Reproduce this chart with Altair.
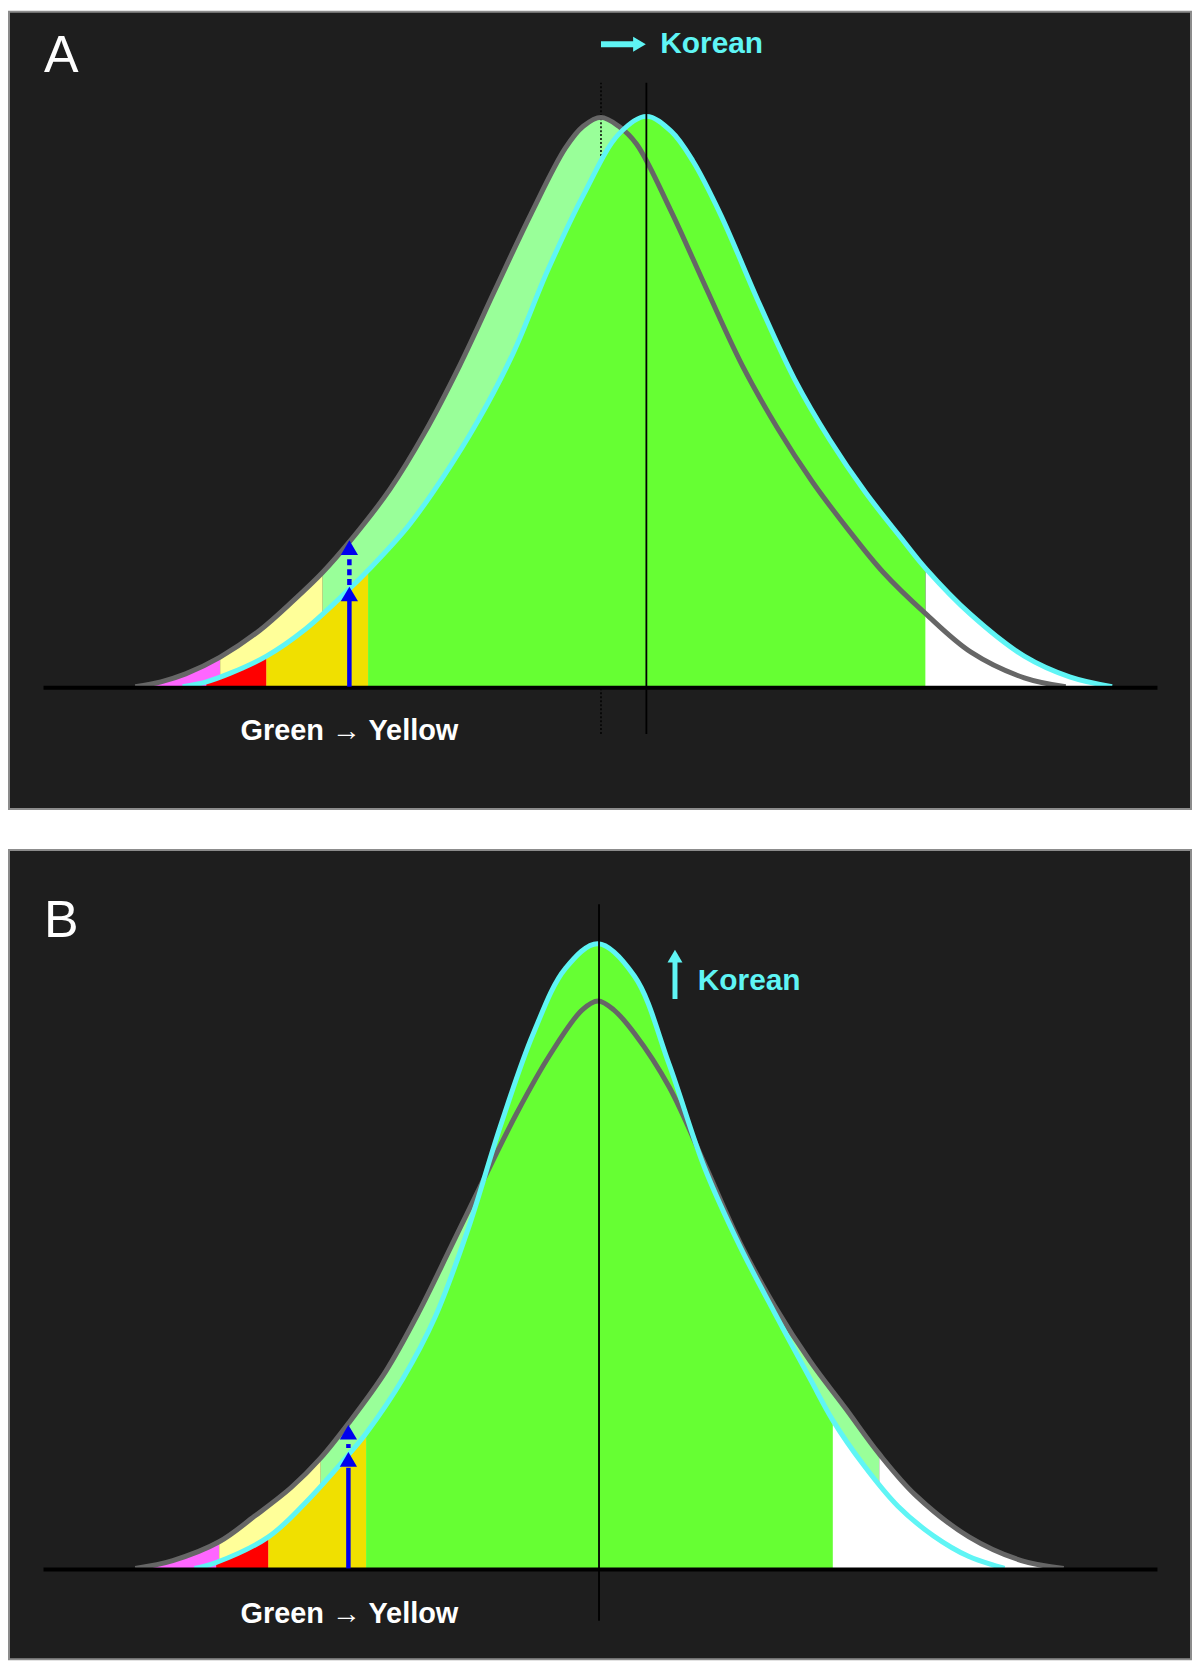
import altair as alt
import pandas as pd

# ---------------- data ----------------
# x: trait score (horizontal position units), h: height of the density above the baseline
# Panel A - reference population (grey) and Korean population (cyan, shifted right)
A_GREY_X = [128, 154, 179, 214, 254, 289, 318, 346, 386, 421, 457, 493, 529, 564, 582,
            600, 618, 636, 671, 707, 743, 779, 814, 850, 886, 929, 975, 1029, 1071]
A_GREY_H = [0, 5, 13, 30, 57, 88, 116, 148, 200, 257, 326, 403, 479, 546, 568,
            577, 568, 550, 482, 403, 326, 262, 208, 160, 116, 74, 35, 9, 0]
A_CYAN_X = [176, 200, 225, 261, 300, 346, 364, 404, 439, 475, 511, 546, 582, 618, 646,
            671, 693, 721, 761, 796, 832, 868, 904, 929, 975, 1029, 1075, 1118]
A_CYAN_H = [0, 5, 14, 31, 58, 100, 118, 162, 211, 269, 338, 422, 498, 560, 578,
            563, 533, 479, 387, 312, 250, 197, 151, 120, 73, 31, 10, 0]
A_GREY_BREAKS = [128, 214, 318, 886, 1071]
A_CYAN_BREAKS = [176, 200, 261, 364, 929, 1118]

# Panel B - reference population (grey) and Korean population (cyan, taller / narrower)
B_GREY_X = [128, 166, 213, 249, 286, 316, 344, 382, 415, 448, 481, 515, 548, 581, 597,
            613, 634, 669, 705, 741, 776, 812, 848, 882, 919, 973, 1026, 1069]
B_GREY_H = [0, 8, 27, 53, 82, 112, 147, 200, 259, 326, 394, 462, 520, 566, 575,
            566, 542, 488, 410, 330, 266, 210, 162, 116, 74, 32, 8, 0]
B_CYAN_X = [188, 210, 263, 299, 344, 362, 399, 432, 465, 498, 531, 564, 597,
            634, 669, 705, 741, 776, 812, 835, 866, 901, 937, 973, 1009]
B_CYAN_H = [0, 6, 32, 65, 115, 137, 192, 255, 343, 448, 541, 608, 633,
            600, 511, 406, 326, 259, 192, 150, 105, 63, 33, 12, 0]
B_GREY_BREAKS = [128, 213, 316, 882, 1069]
B_CYAN_BREAKS = [188, 210, 263, 362, 835, 1009]

GREY_ZONES = ["g_pink", "g_yellow", "g_green", "g_white"]
CYAN_ZONES = ["c_pink", "c_red", "c_yellow", "c_green", "c_white"]
ZONE_COLORS = ["#ff66ff", "#ffff99", "#99ff99", "#ffffff",
               "#ff66ff", "#ff0000", "#f0e000", "#66ff33", "#ffffff"]

# ---------------- styling ----------------
BG = "#1e1e1e"
GREY = "#666666"
CYAN = "#5ff5f5"
BLUE = "#0000ee"
X_DOMAIN = [0, 1198]
W = 1186
FONT = "Liberation Sans, Arial, sans-serif"
NARROW = "Liberation Sans Narrow, Liberation Sans, Arial, sans-serif"
INTERP = "catmull-rom"

TRI_UP = "M0,-0.85L1,0.85L-1,0.85Z"
TRI_RIGHT = "M0.85,0L-0.85,-1L-0.85,1Z"

zone_scale = alt.Scale(domain=GREY_ZONES + CYAN_ZONES, range=ZONE_COLORS)


def xq(field="x"):
    return alt.X(f"{field}:Q", scale=alt.Scale(domain=X_DOMAIN, nice=False, zero=False), axis=None)


def yq(field, ydom):
    return alt.Y(f"{field}:Q", scale=alt.Scale(domain=ydom, nice=False, zero=False),
                 axis=None, stack=None)


def zone_frame(xs, hs, breaks, names):
    rows = []
    for i, name in enumerate(names):
        lo, hi = breaks[i], breaks[i + 1]
        for x, h in zip(xs, hs):
            if lo <= x <= hi:
                rows.append({"x": x, "h": h, "zone": name})
    return pd.DataFrame(rows)


def areas(xs, hs, breaks, names, ydom):
    df = zone_frame(xs, hs, breaks, names)
    return alt.Chart(df).mark_area(interpolate=INTERP).encode(
        x=xq(), y=yq("h", ydom), y2=alt.datum(0),
        color=alt.Color("zone:N", scale=zone_scale, legend=None))


def curve(xs, hs, color, width, ydom):
    df = pd.DataFrame({"x": xs, "h": hs})
    return alt.Chart(df).mark_line(interpolate=INTERP, color=color,
                                   strokeWidth=width).encode(x=xq(), y=yq("h", ydom))


def vrule(x, h1, h2, ydom, color, width, dash=None):
    df = pd.DataFrame({"x": [x], "h1": [h1], "h2": [h2]})
    kw = dict(color=color, strokeWidth=width)
    if dash:
        kw["strokeDash"] = dash
    return alt.Chart(df).mark_rule(**kw).encode(x=xq(), y=yq("h1", ydom), y2="h2:Q")


def hrule(x1, x2, h, ydom, color, width):
    df = pd.DataFrame({"x1": [x1], "x2": [x2], "h": [h]})
    return alt.Chart(df).mark_rule(color=color, strokeWidth=width).encode(
        x=xq("x1"), x2="x2:Q", y=yq("h", ydom))


def head(x, h, shape, size, color, ydom):
    df = pd.DataFrame({"x": [x], "h": [h]})
    return alt.Chart(df).mark_point(shape=shape, size=size, filled=True, color=color,
                                    opacity=1, strokeWidth=0).encode(x=xq(), y=yq("h", ydom))


def label(x, h, text, ydom, **mk):
    df = pd.DataFrame({"x": [x], "h": [h], "t": [text]})
    return alt.Chart(df).mark_text(**mk).encode(x=xq(), y=yq("h", ydom), text="t:N")


# ---------------- panel A ----------------
ya = [-124, 684]
panel_a = alt.layer(
    areas(A_GREY_X, A_GREY_H, A_GREY_BREAKS, GREY_ZONES, ya),
    vrule(600, -48, 612, ya, "#000000", 1.5, [2, 2]),
    areas(A_CYAN_X, A_CYAN_H, A_CYAN_BREAKS, CYAN_ZONES, ya),
    curve(A_GREY_X, A_GREY_H, GREY, 5, ya),
    curve(A_CYAN_X, A_CYAN_H, CYAN, 5, ya),
    vrule(646, -48, 612, ya, "#000000", 1.8),
    hrule(35, 1164, -1, ya, "#000000", 4),
    vrule(345, 0, 88, ya, BLUE, 4.5),
    head(345, 94, TRI_UP, 300, BLUE, ya),
    vrule(345, 103, 132, ya, BLUE, 4.5, [6, 4]),
    head(345, 141, TRI_UP, 300, BLUE, ya),
    hrule(600, 636, 651, ya, CYAN, 6),
    head(639, 651, TRI_RIGHT, 225, CYAN, ya),
    label(660, 651, "Korean", ya, align="left", baseline="middle", font=FONT,
          fontSize=30, fontWeight="bold", color=CYAN),
    label(345, -45, "Green → Yellow", ya, align="center", baseline="middle", font=FONT,
          fontSize=29, fontWeight="bold", color="#ffffff"),
    label(53, 639, "A", ya, align="center", baseline="middle", font=NARROW,
          fontSize=52, color="#ffffff"),
).properties(width=W, height=800)

# ---------------- panel B ----------------
yb = [-92, 728]
panel_b = alt.layer(
    areas(B_GREY_X, B_GREY_H, B_GREY_BREAKS, GREY_ZONES, yb),
    areas(B_CYAN_X, B_CYAN_H, B_CYAN_BREAKS, CYAN_ZONES, yb),
    curve(B_GREY_X, B_GREY_H, GREY, 5, yb),
    curve(B_CYAN_X, B_CYAN_H, CYAN, 5, yb),
    vrule(598, -53, 673, yb, "#000000", 1.8),
    hrule(35, 1164, -1, yb, "#000000", 4),
    vrule(344, 0, 102, yb, BLUE, 4.5),
    head(344, 110.5, TRI_UP, 300, BLUE, yb),
    vrule(344, 122, 126, yb, BLUE, 4.5),
    head(344, 138, TRI_UP, 300, BLUE, yb),
    vrule(675, 577, 616, yb, CYAN, 5),
    head(675, 620.5, TRI_UP, 225, CYAN, yb),
    label(698, 595, "Korean", yb, align="left", baseline="middle", font=FONT,
          fontSize=30, fontWeight="bold", color=CYAN),
    label(345, -46, "Green → Yellow", yb, align="center", baseline="middle", font=FONT,
          fontSize=29, fontWeight="bold", color="#ffffff"),
    label(53, 656, "B", yb, align="center", baseline="middle", font=NARROW,
          fontSize=52, color="#ffffff"),
).properties(width=W, height=812)

chart = alt.vconcat(panel_a, panel_b, spacing=39, padding=0, background="#ffffff").configure_view(
    fill=BG, stroke="#8c8c8c", strokeWidth=2)

chart.save("out.html", embed_options={"renderer": "svg", "actions": False})
